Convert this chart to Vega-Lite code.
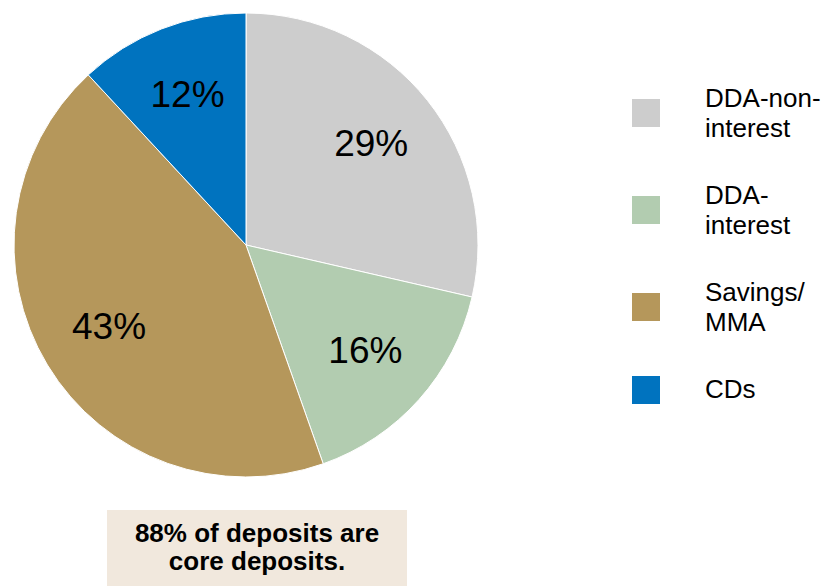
{
  "$schema": "https://vega.github.io/schema/vega-lite/v6.json",
  "padding": 0,
  "background": "white",
  "config": {
    "view": {"stroke": null},
    "font": "Liberation Sans",
    "style": {"guide-label": {"lineHeight": 30}}
  },
  "datasets": {
    "slices": [
      {"name": "DDA-non-interest", "value": 28.6, "label": "29%", "order": 1},
      {"name": "DDA-interest", "value": 16.0, "label": "16%", "order": 2},
      {"name": "Savings/MMA", "value": 43.5, "label": "43%", "order": 3},
      {"name": "CDs", "value": 11.9, "label": "12%", "order": 4}
    ],
    "note": [{"text": "88% of deposits are|core deposits."}],
    "blank": [{"text": ""}]
  },
  "spacing": 20,
  "bounds": "flush",
  "vconcat": [
    {
      "width": 492,
      "height": 490,
      "data": {"name": "slices"},
      "encoding": {
        "theta": {"field": "value", "type": "quantitative", "stack": true},
        "order": {"field": "order", "type": "quantitative"}
      },
      "layer": [
        {
          "mark": {"type": "arc", "outerRadius": 232, "stroke": "white", "strokeWidth": 1},
          "encoding": {
            "color": {
              "field": "name",
              "type": "nominal",
              "scale": {
                "domain": ["DDA-non-interest", "DDA-interest", "Savings/MMA", "CDs"],
                "range": ["#CDCDCD", "#B2CCB0", "#B5975B", "#0073BF"]
              },
              "legend": {
                "title": null,
                "orient": "none",
                "legendX": 632,
                "legendY": 85,
                "padding": 0,
                "symbolType": {"expr": "datum.label == 'CDs' ? 'M-1,-1H1V1H-1Z' : 'M-1,0H1V2H-1Z'"},
                "symbolSize": 784,
                "symbolStrokeWidth": 0,
                "symbolOpacity": 1,
                "labelFontSize": 26,
                "labelColor": "black",
                "labelFont": "Liberation Sans",
                "labelOffset": 45,
                "labelLimit": 300,
                "rowPadding": 40,
                "labelExpr": "datum.label == 'DDA-non-interest' ? ['DDA-non-', 'interest'] : datum.label == 'DDA-interest' ? ['DDA-', 'interest'] : datum.label == 'Savings/MMA' ? ['Savings/', 'MMA'] : datum.label"
              }
            }
          }
        },
        {
          "mark": {"type": "text", "radius": 160, "fontSize": 37, "color": "black", "font": "Liberation Sans"},
          "encoding": {"text": {"field": "label", "type": "nominal"}}
        }
      ]
    },
    {
      "spacing": 0,
      "bounds": "flush",
      "hconcat": [
        {
          "width": 107,
          "height": 76,
          "data": {"name": "blank"},
          "mark": {"type": "text"},
          "encoding": {"text": {"field": "text", "type": "nominal"}}
        },
        {
          "width": 300,
          "height": 76,
          "data": {"name": "note"},
          "view": {"fill": "#F1E8DD", "stroke": null},
          "mark": {"type": "text", "fontSize": 26, "fontWeight": "bold", "lineBreak": "|", "lineHeight": 28, "dy": -14, "color": "black", "font": "Liberation Sans"},
          "encoding": {"text": {"field": "text", "type": "nominal"}}
        }
      ]
    }
  ]
}
